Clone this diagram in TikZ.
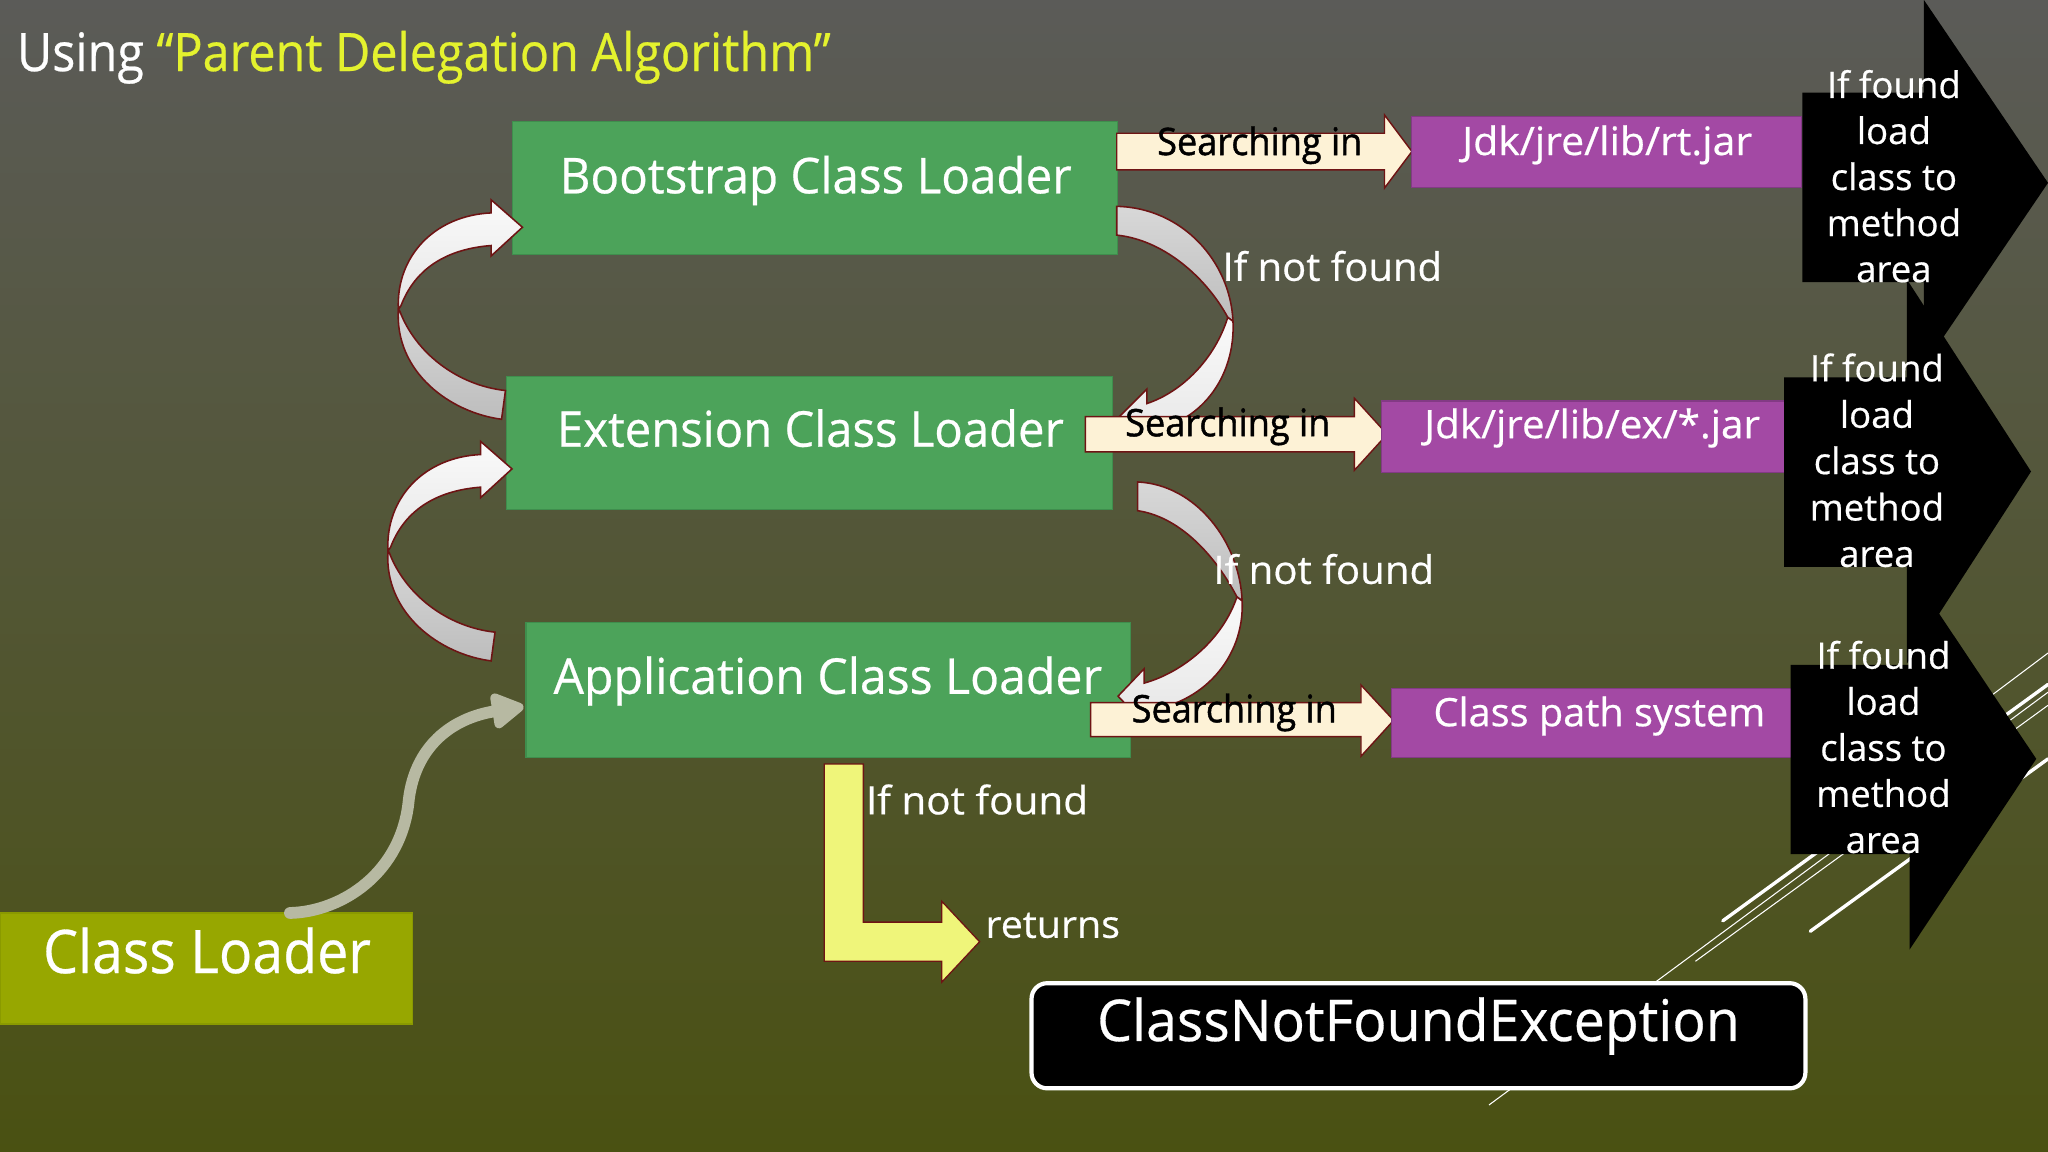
\documentclass[tikz,border=0pt]{standalone}
\usepackage{fontspec}
\setmainfont{Open Sans}[FakeBold=0.5]
\newfontfamily\heavyfont{Open Sans}[FakeBold=1.2]
\usepackage{graphicx}
\usetikzlibrary{calc,arrows.meta}

\definecolor{bgtop}{HTML}{5B5B58}
\definecolor{bgmid}{HTML}{525334}
\definecolor{bgbot}{HTML}{4A5112}
\definecolor{titley}{HTML}{E4F22E}
\definecolor{boxgreen}{HTML}{4CA35A}
\definecolor{boxgreenedge}{HTML}{3F8E4D}
\definecolor{clbox}{HTML}{97A700}
\definecolor{clboxedge}{HTML}{8A9A00}
\definecolor{purp}{HTML}{A349A4}
\definecolor{purpedge}{HTML}{833A85}
\definecolor{cream}{HTML}{FDF2D6}
\definecolor{darkred}{HTML}{6E1414}
\definecolor{lyellow}{HTML}{EFF57A}
\definecolor{arrowgrey}{HTML}{B7B9A2}
\definecolor{bandwA}{HTML}{FAFAFA}
\definecolor{bandwB}{HTML}{E6E6E6}
\definecolor{bandgA}{HTML}{D8D8D8}
\definecolor{bandgB}{HTML}{BDBDBD}

\newcommand{\hfitto}[2]{\resizebox{#1}{\height}{#2}}

\begin{document}
\begin{tikzpicture}[x=1pt, y=-1pt,
  lbl/.style={inner sep=0pt, outer sep=0pt, anchor=base, text=white},
  greenbox/.style={draw=boxgreenedge, line width=0.8pt, fill=boxgreen, inner sep=0pt},
  purpbox/.style={draw=purpedge, line width=0.8pt, fill=purp, inner sep=0pt},
  searchar/.style={draw=darkred, line width=1.1pt, fill=cream, line join=miter},
  bandw/.style={draw=darkred, line width=1.2pt, top color=bandwA, bottom color=bandwB},
  bandg/.style={draw=darkred, line width=1.2pt, top color=bandgA, bottom color=bandgB},
  blackshape/.style={fill=black},
  decothin/.style={draw=white, line width=0.8pt},
  decothick/.style={draw=white, line width=2.6pt, line cap=round},
  titlefont/.style={font=\fontsize{40.6}{48}\selectfont},
  gfont/.style={font=\fontsize{37.8}{45}\selectfont},
  clfont/.style={font=\fontsize{46}{55}\selectfont},
  cnfefont/.style={font=\fontsize{44}{52}\selectfont},
  sfont/.style={font=\fontsize{29}{35}\selectfont},
  srchfont/.style={font=\heavyfont\fontsize{29}{35}\selectfont},
  pfont/.style={font=\fontsize{30}{36}\selectfont},
  nffont/.style={font=\fontsize{30}{36}\selectfont},
  bfont/.style={font=\fontsize{28}{34}\selectfont},
  clconn/.style={draw=arrowgrey, line width=9pt, line cap=round,
     -{Triangle[width=30pt,length=28pt,round=false]}},
]
% background
\useasboundingbox (0,0) rectangle (1568,882);
\shade[top color=bgtop, middle color=bgmid, bottom color=bgbot] (0,0) rectangle (1568,882);

% decorative lines
\coordinate (dB1) at (1140,846); \coordinate (dB2) at (1568,530);
\coordinate (dC1) at (1298,736); \coordinate (dC2) at (1568,540);
\coordinate (dA1) at (1319,705); \coordinate (dA2) at (1568,524);
\coordinate (dD1) at (1386,713); \coordinate (dD2) at (1568,581);
\coordinate (dE1) at (1520,536); \coordinate (dE2) at (1568,500);
\draw[decothin] (dB1) -- (dB2);
\draw[decothin] (dC1) -- (dC2);
\draw[decothin] (dE1) -- (dE2);
\draw[decothick] (dA1) -- (dA2);
\draw[decothick] (dD1) -- (dD2);

% title
\node[lbl, anchor=base west, titlefont] (title) at (13,54.4)
  {\hfitto{623pt}{Using \textcolor{titley}{“Parent Delegation Algorithm”}}};

% green boxes
\node[greenbox, minimum width=463pt, minimum height=102pt] (boot) at (624,144) {};
\node[greenbox, minimum width=463.6pt, minimum height=102.5pt] (ext) at (619.8,339.2) {};
\node[greenbox, minimum width=463pt, minimum height=102.7pt] (app) at (634.2,528.3) {};
\node[lbl, gfont] (bootl) at (624.5,148) {\hfitto{392pt}{Bootstrap Class Loader}};
\node[lbl, gfont] (extl) at (620.5,342) {\hfitto{388pt}{Extension Class Loader}};
\node[lbl, gfont] (appl) at (633.8,531.2) {\hfitto{420pt}{Application Class Loader}};

% class loader box
\node[fill=clbox, draw=clboxedge, line width=0.8pt, minimum width=316pt,
      minimum height=85pt, inner sep=0pt] (clb) at (158,741.5) {};
\node[lbl, clfont] (clbl) at (158.5,745) {\hfitto{251pt}{Class Loader}};

% left curved arrows (child -> parent)
\path[bandg] (305,237) .. controls (302,285) and (345,316) .. (384,321) -- (387,299)
   .. controls (350,295) and (318,270) .. (306,238) -- cycle;
\path[bandw] (305,237) .. controls (303,196) and (333,165) .. (376,163) -- (376,153)
   -- (400,174) -- (376,196) -- (376,188) .. controls (350,190) and (320,200) .. (307,234) -- cycle;
\begin{scope}[shift={(-8,185)}]
\path[bandg] (305,237) .. controls (302,285) and (345,316) .. (384,321) -- (387,299)
   .. controls (350,295) and (318,270) .. (306,238) -- cycle;
\path[bandw] (305,237) .. controls (303,196) and (333,165) .. (376,163) -- (376,153)
   -- (400,174) -- (376,196) -- (376,188) .. controls (350,190) and (320,200) .. (307,234) -- cycle;
\end{scope}

% right curved arrows (parent -> child)
\path[bandg] (855,158) .. controls (905,159) and (942,200) .. (944,246) -- (940,243)
   .. controls (925,215) and (893,184) .. (855,180) -- cycle;
\path[bandw] (944,246) .. controls (946,290) and (918,325) .. (878,330) -- (878,340)
   -- (857,319) -- (878,298) -- (878,309) .. controls (905,300) and (930,275) .. (940,243) -- cycle;
\path[bandg] (871,369) .. controls (915,371) and (949,414) .. (951,460) -- (947,457)
   .. controls (932,428) and (905,396) .. (871,391) -- cycle;
\path[bandw] (951,460) .. controls (953,504) and (920,540) .. (876,544) -- (876,554)
   -- (856,533) -- (876,512) -- (876,523) .. controls (905,515) and (936,490) .. (947,457) -- cycle;

% searching-in arrows
\path[searchar] (855,102) -- (1060,102) -- (1060,88) -- (1081,116) -- (1060,144) -- (1060,130) -- (855,130) -- cycle;
\path[searchar] (831,319) -- (1037,319) -- (1037,305) -- (1062,332.5) -- (1037,360) -- (1037,346) -- (831,346) -- cycle;
\path[searchar] (835,538) -- (1042,538) -- (1042,524.5) -- (1067,551.5) -- (1042,579) -- (1042,564) -- (835,564) -- cycle;
\node[lbl, text=black, srchfont] (s1) at (964.5,118.7) {\hfitto{157pt}{Searching in}};
\node[lbl, text=black, srchfont] (s2) at (940,334) {\hfitto{157pt}{Searching in}};
\node[lbl, text=black, srchfont] (s3) at (945,553) {\hfitto{157pt}{Searching in}};

% purple boxes
\node[purpbox, minimum width=298pt, minimum height=54pt] (p1) at (1230,116.5) {};
\node[purpbox, minimum width=309pt, minimum height=55pt] (p2) at (1212.5,334.5) {};
\node[purpbox, minimum width=307pt, minimum height=53pt] (p3) at (1218.5,553.5) {};
\node[lbl, pfont] (p1l) at (1230.5,118.7) {\hfitto{222pt}{Jdk/jre/lib/rt.jar}};
\node[lbl, pfont] (p2l) at (1219,335.5) {\hfitto{257pt}{Jdk/jre/lib/ex/*.jar}};
\node[lbl, pfont] (p3l) at (1224.5,556) {\hfitto{254pt}{Class path system}};

% black arrow shapes
\fill[blackshape] (1380,71) -- (1473,71) -- (1473,0) -- (1568,140) -- (1473,280) -- (1473,216) -- (1380,216) -- cycle;
\fill[blackshape] (1366,289) -- (1460,289) -- (1460,214) -- (1555,361) -- (1460,508) -- (1460,434) -- (1366,434) -- cycle;
\fill[blackshape] (1371,509) -- (1462,509) -- (1462,436) -- (1559,581) -- (1462,727) -- (1462,654) -- (1371,654) -- cycle;
\foreach \t [count=\i] in {If found,load,class to,method,area} {
  \node[lbl, bfont] (fa\i) at (1450,{75+35.25*(\i-1)}) {\t};
  \node[lbl, bfont] (fb\i) at (1437,{292+35.5*(\i-1)}) {\t};
  \node[lbl, bfont] (fc\i) at (1442,{512+35.25*(\i-1)}) {\t};
}

% if-not-found labels
\node[lbl, anchor=base west, nffont] (nf1) at (936,215) {\hfitto{168pt}{If not found}};
\node[lbl, anchor=base west, nffont] (nf2) at (929,447) {\hfitto{169pt}{If not found}};
\node[lbl, anchor=base west, nffont] (nf3) at (663,623.5) {\hfitto{170pt}{If not found}};

% yellow L arrow
\path[draw=darkred, line width=1pt, fill=lyellow] (631,585) -- (661,585) -- (661,706) -- (721,706)
   -- (721,690) -- (750,721) -- (721,752) -- (721,736) -- (631,736) -- cycle;
\node[lbl, anchor=base west, sfont] (ret) at (754.5,718) {\hfitto{103pt}{returns}};

% ClassNotFoundException
\node[draw=white, line width=3.2pt, fill=black, rounded corners=12pt, minimum width=592.5pt,
      minimum height=80.5pt, inner sep=0pt] (cnfe) at (1086,793) {};
\node[lbl, cnfefont] (cnfel) at (1086,797) {\hfitto{492pt}{ClassNotFoundException}};

% class loader -> application class loader
\coordinate (clstart) at (222,699);
\coordinate (apptip) at ($(app.west)+(-1.5,12.7)$);
\draw[clconn] (clstart) .. controls (262,698) and (308,668) .. (313,612)
   .. controls (318,572) and (345,550) .. (apptip);
\end{tikzpicture}
\end{document}
